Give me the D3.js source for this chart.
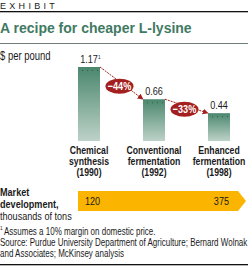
<!DOCTYPE html>
<html>
<head>
<meta charset="utf-8">
<script src="https://cdn.jsdelivr.net/npm/d3@7"></script>
<style>
  body { margin: 0; background: #fff; }
  svg { display: block; }
  text { font-family: "Liberation Sans", Arial, sans-serif; fill: #1a1a1a; }
</style>
</head>
<body>
<svg width="248" height="266"></svg>
<script>
const categories = ['Chemical synthesis (1990)', 'Conventional fermentation (1992)', 'Enhanced fermentation (1998)'];
const labelLines = [['Chemical', 'synthesis', '(1990)'], ['Conventional', 'fermentation', '(1992)'], ['Enhanced', 'fermentation', '(1998)']];
const prices = [1.17, 0.66, 0.44];
const priceLabels = ['1.17', '0.66', '0.44'];
const changes = ['\u221244%', '\u221233%'];
const marketLabels = ['120', '375'];
const footnotes = [
  'Assumes a 10% margin on domestic price.',
  'Source: Purdue University Department of Agriculture; Bernard Wolnak',
  'and Associates; McKinsey analysis'
];

const svg = d3.select('svg');
const green = '#3f7a63';
const red = '#a3201f';
const narrow = 0.79;

// condensed text: horizontal squeeze of a regular face
const cText = (parent, x, y, str, size, weight, anchor, fill, sx) =>
  parent.append('text')
    .attr('transform', `translate(${x},${y}) scale(${sx || narrow},1)`)
    .attr('text-anchor', anchor || 'start')
    .style('font-size', size + 'px')
    .style('font-weight', weight || 'normal')
    .style('fill', fill || '#1a1a1a')
    .text(str);

// header
svg.append('text').attr('x', 0).attr('y', 9)
  .style('font-size', '9px').style('letter-spacing', '3.3px')
  .text('EXHIBIT');
svg.append('rect').attr('x', 0).attr('y', 11).attr('width', 248).attr('height', 1.3).attr('fill', '#111');
svg.append('text').attr('x', 0).attr('y', 33)
  .style('font-size', '14px').style('font-weight', 'bold').style('fill', green)
  .text('A recipe for cheaper L-lysine');
svg.append('rect').attr('x', 0).attr('y', 43).attr('width', 248).attr('height', 1).attr('fill', '#6f7f77');
cText(svg, 0, 60, '$ per pound', 12);

const x = d3.scalePoint().domain(categories).range([89, 219]);
const y = d3.scaleLinear().domain([0, prices[0]]).range([141, 67]);
const barW = 22;

const defs = svg.append('defs');
const grad = defs.append('linearGradient').attr('id', 'barGrad')
  .attr('x1', 0).attr('x2', 0).attr('y1', 0).attr('y2', 1);
grad.append('stop').attr('offset', '0%').attr('stop-color', '#4a876d');
grad.append('stop').attr('offset', '100%').attr('stop-color', '#bdd2c8');
defs.append('marker').attr('id', 'arrow').attr('viewBox', '0 0 10 10')
  .attr('refX', 9).attr('refY', 5).attr('markerWidth', 6).attr('markerHeight', 6)
  .attr('orient', 'auto')
  .append('path').attr('d', 'M0,0L10,5L0,10z').attr('fill', red);

const g = svg.append('g');
g.selectAll('rect.bar').data(categories).enter().append('rect')
  .attr('class', 'bar')
  .attr('x', d => x(d) - barW / 2)
  .attr('y', (d, i) => y(prices[i]))
  .attr('width', barW)
  .attr('height', (d, i) => y(0) - y(prices[i]))
  .attr('fill', 'url(#barGrad)');

// dotted row near bar tops
categories.forEach((c, i) => {
  d3.range(4).forEach(k => {
    g.append('rect').attr('x', x(c) - barW / 2 + 4 + k * 5).attr('y', y(prices[i]) + 3)
      .attr('width', 1).attr('height', 1).attr('fill', '#2f5f4c');
  });
});

categories.forEach((c, i) => {
  cText(g, x(c), y(prices[i]) - 4, priceLabels[i], 11.5, 'normal', 'middle');
});
cText(g, x(categories[0]) + 9, y(prices[0]) - 8, '1', 6);

// arrows with change bubbles
changes.forEach((c, i) => {
  const x0 = x(categories[i]) + barW / 2, y0 = y(prices[i]);
  const x1 = x(categories[i + 1]) - barW / 2, y1 = y(prices[i + 1]);
  g.append('line').attr('x1', x0).attr('y1', y0).attr('x2', x1).attr('y2', y1)
    .attr('stroke', red).attr('stroke-width', 1).attr('stroke-dasharray', '2,1')
    .attr('marker-end', 'url(#arrow)');
  const cx = (x0 + x1) / 2 - 2, cy = (y0 + y1) / 2 + 3;
  g.append('ellipse').attr('cx', cx).attr('cy', cy).attr('rx', 14).attr('ry', 7.5).attr('fill', red);
  cText(g, cx, cy + 4, c, 11.5, 'bold', 'middle', '#fff');
});

// category labels
categories.forEach((c, i) => {
  labelLines[i].forEach((t, j) => {
    cText(g, x(c), 153.5 + j * 11, t, 11, 'bold', 'middle');
  });
});

// market development band
const mk = svg.append('g');
[['Market', 'bold'], ['development,', 'bold'], ['thousands of tons', 'normal']].forEach((t, j) => {
  cText(mk, 0, 196 + j * 12, t[0], 11.5, t[1]);
});
const bx0 = x(categories[0]) - barW / 2;
const bx1 = x(categories[2]) + barW / 2 + 8;
mk.append('path')
  .attr('d', `M${bx0},191H${bx1}L${bx1 + 8},201L${bx1},211H${bx0}Z`)
  .attr('fill', '#fbb500');
cText(mk, x(categories[0]) - 4, 205, marketLabels[0], 11.5);
cText(mk, x(categories[2]) + 10, 205, marketLabels[1], 11.5, 'normal', 'end');

// footnotes
const fn = svg.append('g');
cText(fn, 0, 230, '1', 6);
footnotes.forEach((t, j) => {
  cText(fn, j === 0 ? 4 : 0, 235 + j * 11, t, 10, 'normal', 'start', '#1a1a1a', 0.8);
});
svg.append('rect').attr('x', 0).attr('y', 264).attr('width', 248).attr('height', 1.3).attr('fill', '#111');
</script>
</body>
</html>
